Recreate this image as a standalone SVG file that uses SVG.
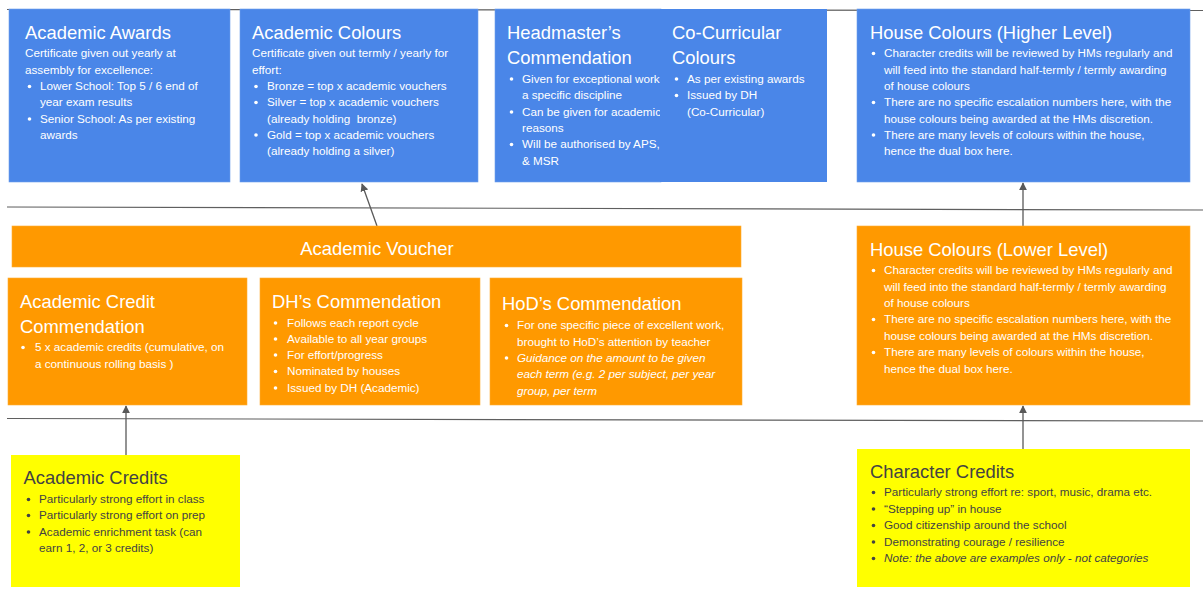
<svg xmlns="http://www.w3.org/2000/svg" width="1203" height="594" viewBox="0 0 1203 594">
<style>
text{font-family:"Liberation Sans",Arial,sans-serif}
.b{fill:#4a86e8;stroke:#6d9eeb;stroke-width:0.6}
.o{fill:#ff9900;stroke:#ffad33;stroke-width:0.6}
.y{fill:#ffff00}
.t{font-size:18.4px;fill:#ffffff}
.tb{font-size:18.4px;fill:#434343}
.x{font-size:11.7px;fill:#ffffff}
.xd{font-size:11.7px;fill:#434343}
.i{font-style:italic}
.sep{stroke:#5f5f5f;stroke-width:1.2;fill:none}
.c{stroke:#595959;stroke-width:1.3;fill:none}
</style>
<defs>
<marker id="ah" viewBox="0 0 10 10" refX="9" refY="5" markerWidth="8" markerHeight="8" markerUnits="userSpaceOnUse" orient="auto">
<path d="M0,0 L10,5 L0,10 z" fill="#595959"/>
</marker>
<clipPath id="hmclip"><rect x="495" y="0" width="165" height="200"/></clipPath>
</defs>
<g id="separators">
<line class="sep" x1="7" y1="9.5" x2="1203" y2="10.5"/>
<line class="sep" x1="7" y1="207" x2="1203" y2="210"/>
<line class="sep" x1="7" y1="418.5" x2="1203" y2="421"/>
</g>
<g id="connectors">
<line class="c" x1="377" y1="226" x2="362" y2="184" marker-end="url(#ah)"/>
<line class="c" x1="126" y1="455" x2="126" y2="406" marker-end="url(#ah)"/>
<line class="c" x1="1023" y1="226" x2="1023" y2="183" marker-end="url(#ah)"/>
<line class="c" x1="1023" y1="449" x2="1023" y2="406" marker-end="url(#ah)"/>
</g>
<g id="academic-awards">
<rect class="b" x="9" y="9" width="221" height="173"/>
<text class="t" x="25" y="38.5">Academic Awards</text>
<text class="x" x="25" y="57">Certificate given out yearly at</text>
<text class="x" x="25" y="73.5">assembly for excellence:</text>
<circle cx="29.5" cy="86.5" r="1.8" fill="#fff"/><text class="x" x="40" y="90">Lower School: Top 5 / 6 end of</text>
<text class="x" x="40" y="106">year exam results</text>
<circle cx="29.5" cy="119" r="1.8" fill="#fff"/><text class="x" x="40" y="122.5">Senior School: As per existing</text>
<text class="x" x="40" y="138.5">awards</text>
</g>
<g id="academic-colours">
<rect class="b" x="240" y="9" width="238" height="173"/>
<text class="t" x="252" y="38.5">Academic Colours</text>
<text class="x" x="252" y="57">Certificate given out termly / yearly for</text>
<text class="x" x="252" y="73.5">effort:</text>
<circle cx="256" cy="86.5" r="1.8" fill="#fff"/><text class="x" x="267" y="90">Bronze = top x academic vouchers</text>
<circle cx="256" cy="102.5" r="1.8" fill="#fff"/><text class="x" x="267" y="106">Silver = top x academic vouchers</text>
<text class="x" x="267" y="122.5" xml:space="preserve">(already holding  bronze)</text>
<circle cx="256" cy="135" r="1.8" fill="#fff"/><text class="x" x="267" y="138.5">Gold = top x academic vouchers</text>
<text class="x" x="267" y="155">(already holding a silver)</text>
</g>
<g id="headmasters-commendation">
<rect class="b" x="495" y="9" width="166" height="173"/>
<text class="t" x="507" y="38.5">Headmaster’s</text>
<text class="t" x="507" y="63.5">Commendation</text>
<g clip-path="url(#hmclip)">
<circle cx="511.5" cy="79" r="1.8" fill="#fff"/><text class="x" x="522" y="82.5">Given for exceptional work</text>
<text class="x" x="522" y="99">a specific discipline</text>
<circle cx="511.5" cy="112" r="1.8" fill="#fff"/><text class="x" x="522" y="115.5">Can be given for academic</text>
<text class="x" x="522" y="132">reasons</text>
<circle cx="511.5" cy="144.5" r="1.8" fill="#fff"/><text class="x" x="522" y="148">Will be authorised by APS,</text>
<text class="x" x="522" y="164.5">&amp; MSR</text>
</g>
</g>
<g id="co-curricular-colours">
<rect x="660" y="9" width="167" height="173" fill="#4a86e8"/>
<text class="t" x="672" y="38.5">Co-Curricular</text>
<text class="t" x="672" y="63.5">Colours</text>
<circle cx="676.5" cy="79" r="1.8" fill="#fff"/><text class="x" x="687" y="82.5">As per existing awards</text>
<circle cx="676.5" cy="95.5" r="1.8" fill="#fff"/><text class="x" x="687" y="99">Issued by DH</text>
<text class="x" x="687" y="115.5">(Co-Curricular)</text>
</g>
<g id="house-colours-higher">
<rect class="b" x="857" y="9" width="333" height="173"/>
<text class="t" x="870" y="38.5">House Colours (Higher Level)</text>
<circle cx="873.5" cy="53.5" r="1.8" fill="#fff"/><text class="x" x="884" y="57">Character credits will be reviewed by HMs regularly and</text>
<text class="x" x="884" y="73.5">will feed into the standard half-termly / termly awarding</text>
<text class="x" x="884" y="90">of house colours</text>
<circle cx="873.5" cy="102.5" r="1.8" fill="#fff"/><text class="x" x="884" y="106">There are no specific escalation numbers here, with the</text>
<text class="x" x="884" y="122.5">house colours being awarded at the HMs discretion.</text>
<circle cx="873.5" cy="135" r="1.8" fill="#fff"/><text class="x" x="884" y="138.5">There are many levels of colours within the house,</text>
<text class="x" x="884" y="155">hence the dual box here.</text>
</g>
<g id="academic-voucher">
<rect class="o" x="12" y="226" width="729" height="41"/>
<text class="t" x="377" y="255" text-anchor="middle">Academic Voucher</text>
</g>
<g id="academic-credit-commendation">
<rect class="o" x="8" y="278" width="239" height="127"/>
<text class="t" x="20" y="307.5">Academic Credit</text>
<text class="t" x="20" y="333">Commendation</text>
<circle cx="23" cy="347.5" r="1.8" fill="#fff"/><text class="x" x="35" y="351">5 x academic credits (cumulative, on</text>
<text class="x" x="35" y="367.5">a continuous rolling basis )</text>
</g>
<g id="dhs-commendation">
<rect class="o" x="260" y="278" width="220" height="127"/>
<text class="t" x="272" y="307.5">DH’s Commendation</text>
<circle cx="275.5" cy="323" r="1.8" fill="#fff"/><text class="x" x="287" y="326.5">Follows each report cycle</text>
<circle cx="275.5" cy="339" r="1.8" fill="#fff"/><text class="x" x="287" y="342.5">Available to all year groups</text>
<circle cx="275.5" cy="355" r="1.8" fill="#fff"/><text class="x" x="287" y="358.5">For effort/progress</text>
<circle cx="275.5" cy="371.5" r="1.8" fill="#fff"/><text class="x" x="287" y="375">Nominated by houses</text>
<circle cx="275.5" cy="388" r="1.8" fill="#fff"/><text class="x" x="287" y="391.5">Issued by DH (Academic)</text>
</g>
<g id="hods-commendation">
<rect class="o" x="490" y="278" width="252" height="127"/>
<text class="t" x="502" y="309.5">HoD’s Commendation</text>
<circle cx="506.5" cy="325.5" r="1.8" fill="#fff"/><text class="x" x="517" y="329">For one specific piece of excellent work,</text>
<text class="x" x="517" y="345.5">brought to HoD’s attention by teacher</text>
<circle cx="506.5" cy="358" r="1.8" fill="#fff"/><text class="x i" x="517" y="361.5">Guidance on the amount to be given</text>
<text class="x i" x="517" y="378">each term (e.g. 2 per subject, per year</text>
<text class="x i" x="517" y="394.5">group, per term</text>
</g>
<g id="house-colours-lower">
<rect class="o" x="857" y="226" width="333" height="179"/>
<text class="t" x="870" y="255.5">House Colours (Lower Level)</text>
<circle cx="873.5" cy="270.5" r="1.8" fill="#fff"/><text class="x" x="884" y="274">Character credits will be reviewed by HMs regularly and</text>
<text class="x" x="884" y="290.5">will feed into the standard half-termly / termly awarding</text>
<text class="x" x="884" y="307">of house colours</text>
<circle cx="873.5" cy="319.5" r="1.8" fill="#fff"/><text class="x" x="884" y="323">There are no specific escalation numbers here, with the</text>
<text class="x" x="884" y="339.5">house colours being awarded at the HMs discretion.</text>
<circle cx="873.5" cy="352.5" r="1.8" fill="#fff"/><text class="x" x="884" y="356">There are many levels of colours within the house,</text>
<text class="x" x="884" y="372.5">hence the dual box here.</text>
</g>
<g id="academic-credits">
<rect class="y" x="11" y="455" width="229" height="132"/>
<text class="tb" x="23.5" y="483.5">Academic Credits</text>
<circle cx="28.5" cy="499.5" r="1.8" fill="#434343"/><text class="xd" x="39" y="503">Particularly strong effort in class</text>
<circle cx="28.5" cy="515.5" r="1.8" fill="#434343"/><text class="xd" x="39" y="519">Particularly strong effort on prep</text>
<circle cx="28.5" cy="532" r="1.8" fill="#434343"/><text class="xd" x="39" y="535.5">Academic enrichment task (can</text>
<text class="xd" x="39" y="552">earn 1, 2, or 3 credits)</text>
</g>
<g id="character-credits">
<rect class="y" x="857" y="449" width="333" height="138"/>
<text class="tb" x="870" y="477.5">Character Credits</text>
<circle cx="873.5" cy="492.5" r="1.8" fill="#434343"/><text class="xd" x="884" y="496">Particularly strong effort re: sport, music, drama etc.</text>
<circle cx="873.5" cy="509" r="1.8" fill="#434343"/><text class="xd" x="884" y="512.5">“Stepping up” in house</text>
<circle cx="873.5" cy="525.5" r="1.8" fill="#434343"/><text class="xd" x="884" y="529">Good citizenship around the school</text>
<circle cx="873.5" cy="542" r="1.8" fill="#434343"/><text class="xd" x="884" y="545.5">Demonstrating courage / resilience</text>
<circle cx="873.5" cy="558.5" r="1.8" fill="#434343"/><text class="xd i" x="884" y="562">Note: the above are examples only - not categories</text>
</g>
</svg>
